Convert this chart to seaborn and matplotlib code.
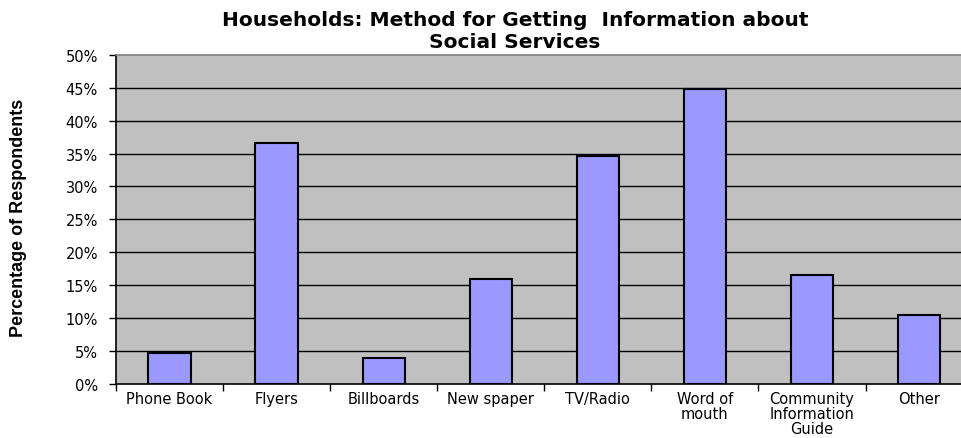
import matplotlib
matplotlib.use("Agg")
import matplotlib.pyplot as plt
import seaborn as sns
import pandas as pd
from matplotlib.ticker import PercentFormatter, FixedLocator

# Survey results: share of households using each information channel
categories = ["Phone Book", "Flyers", "Billboards", "New spaper", "TV/Radio",
              "Word of\nmouth", "Community\nInformation\nGuide", "Other"]
shares = [4.6, 36.6, 3.95, 15.9, 34.7, 44.8, 16.6, 10.4]
y_ticks = [0, 5, 10, 15, 20, 25, 30, 35, 40, 45, 50]

df = pd.DataFrame({"method": categories, "share": shares})

sns.set_style("white")
plt.rcParams["font.family"] = ["DejaVu Sans"]
plt.rcParams["text.color"] = "black"
plt.rcParams["xtick.color"] = "black"
plt.rcParams["ytick.color"] = "black"

fig = plt.figure(figsize=(9.62, 4.39), dpi=100)
ax = fig.add_axes([116 / 962, 54.3 / 439, 856.6 / 962, 328.7 / 439])
ax.set_facecolor("#C0C0C0")

# horizontal gridlines behind the bars
for v in y_ticks[1:-1]:
    ax.axhline(v, color="black", linewidth=1.0, zorder=0.5)

sns.barplot(data=df, x="method", y="share", ax=ax, color="#9999FF",
            edgecolor="black", linewidth=1.5, width=0.395, saturation=1,
            zorder=2)

ax.set_xlim(-0.5, len(categories) - 0.5)
ax.set_ylim(0, 50)
ax.yaxis.set_major_locator(FixedLocator(y_ticks))
ax.yaxis.set_major_formatter(PercentFormatter(decimals=0))

for side in ["left", "bottom"]:
    ax.spines[side].set_color("black")
    ax.spines[side].set_linewidth(1.2)
ax.spines["top"].set_color("#808080")
ax.spines["top"].set_linewidth(1.2)
ax.spines["right"].set_visible(False)

ax.tick_params(axis="y", direction="out", length=5, width=1, color="black",
               labelsize=10.5, pad=8, left=True, labelcolor="black")
ax.tick_params(axis="x", which="major", length=0, labelsize=10.5, pad=5,
               labelcolor="black")
ax.set_xticks([i - 0.5 for i in range(len(categories) + 1)], minor=True)
ax.tick_params(axis="x", which="minor", direction="out", length=5, width=1,
               color="black", bottom=True)
for lbl in ax.get_xticklabels():
    lbl.set_linespacing(1.0)
    lbl.set_verticalalignment("top")

ax.set_xlabel("")
ax.set_ylabel("")
fig.text(19 / 962, 1 - 218 / 439, "Percentage of Respondents", rotation=90,
         ha="center", va="center", fontsize=13, fontweight="bold",
         family="Liberation Sans", color="black")

fig.text(515 / 962, 1 - 31 / 439,
         "Households: Method for Getting  Information about\nSocial Services",
         ha="center", va="center", fontsize=14.5, fontweight="bold",
         linespacing=1.2, color="black")

fig.savefig("out.png", dpi=100, facecolor="white")
